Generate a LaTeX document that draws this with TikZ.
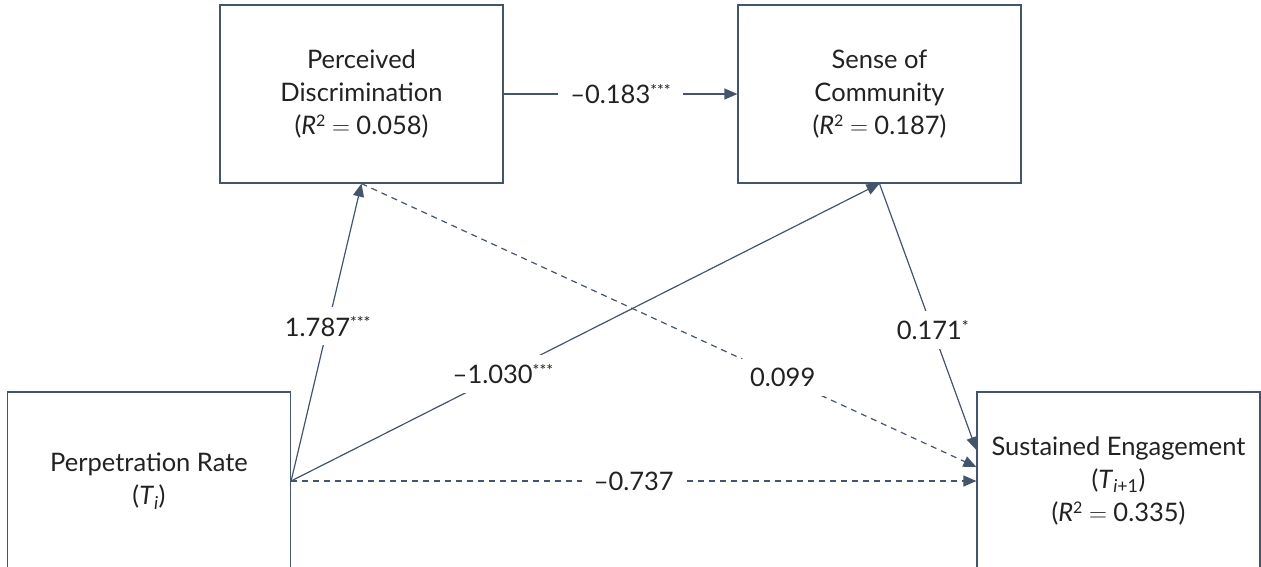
\documentclass[tikz,border=0pt]{standalone}
\usepackage{fontspec}
\setmainfont{Lato}
\usetikzlibrary{arrows.meta,calc}
\definecolor{edgeblue}{HTML}{44546A}
\definecolor{inkgray}{HTML}{222222}
\newcommand{\supmark}[1]{\raisebox{0.3em}{\fontsize{16}{16}\selectfont #1}}
\tikzset{
	varbox/.style={draw=edgeblue, line width=1.2pt, minimum width=283pt, minimum height=178pt, align=center, text=inkgray, font=\fontsize{25.5}{33}\selectfont},
	pathline/.style={draw=edgeblue, line width=1.2pt, -{Triangle[length=13pt,width=11pt]}},
	nsline/.style={pathline, dash pattern=on 6pt off 5pt},
	coef/.style={fill=white, inner xsep=12pt, inner ysep=9pt, text=inkgray, font=\fontsize{25.5}{30}\selectfont}
}

\begin{document}
\begin{tikzpicture}[x=1pt, y=-1pt]
		%%%%% START %%%%%
		\useasboundingbox (0, 0) rectangle (1261, 566);
		
		\node[varbox] (pd) at (361.5, 94) {Perceived\\Discrimination\\(\textit{R}\supmark{2} $=$ 0.058)};
		\node[varbox] (sc) at (879.5, 94) {Sense of\\Community\\(\textit{R}\supmark{2} $=$ 0.187)};
		\node[varbox] (pr) at (149, 481) {Perpetration Rate\\(\textit{T}\textsubscript{\textit{i}})};
		\node[varbox] (se) at (1118.5, 481) {Sustained Engagement\\(\textit{T}\textsubscript{\textit{i}+1})\\(\textit{R}\supmark{2} $=$ 0.335)};
		
		\draw[pathline] (pd.east) -- node[coef] (c1) {–0.183\supmark{***}} (sc.west);
		
		\draw[pathline] (pr.east) -- node[coef, pos=0.52] (c2) {1.787\supmark{***}} (pd.south);
		\draw[pathline] (pr.east) -- node[coef, pos=0.36] (c3) {–1.030\supmark{***}} (sc.south);
		\draw[nsline] (pr.east) -- node[coef] (c4) {–0.737} (se.west);
		
		\draw[nsline] (pd.south) -- node[coef, pos=0.685] (c5) {0.099} ($(se.west)+(0, -14)$);
		\draw[pathline] (sc.south) -- node[coef, pos=0.55] (c6) {0.171\supmark{*}} ($(se.west)+(0, -31)$);
		
		%%%%% END %%%%%
	\end{tikzpicture}
\end{document}
